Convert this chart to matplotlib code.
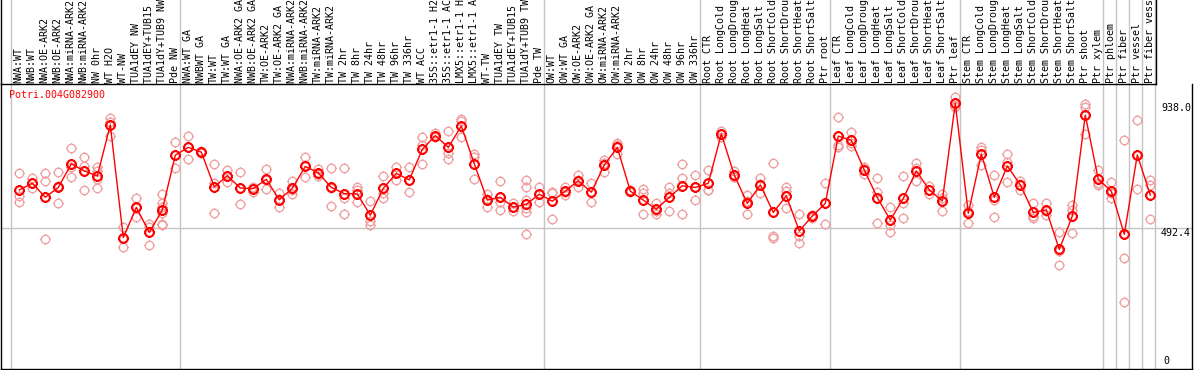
import matplotlib
matplotlib.use('Agg')
import matplotlib.pyplot as plt
from matplotlib.path import Path
import matplotlib.transforms as mtransforms
import numpy as np

# ---------------- data ----------------
gene = "Potri.004G082900"

labels = [
    # group 1
    "NWA:WT", "NWB:WT", "NWA:OE-ARK2", "NWB:OE-ARK2", "NWA:miRNA-ARK2", "NWB:miRNA-ARK2",
    "NW 0hr", "WT H2O", "WT-NW", "TUA1dEY NW", "TUA1dEY+TUB15 NW", "TUA1dY+TUB9 NW", "Pde NW",
    # group 2
    "NWA:WT GA", "NWBWT GA", "TW:WT", "TW:WT GA", "NWA:OE-ARK2 GA", "NWB:OE-ARK2 GA",
    "TW:OE-ARK2", "TW:OE-ARK2 GA", "NWA:miRNA-ARK2 GA", "NWB:miRNA-ARK2 GA", "TW:miRNA-ARK2",
    "TW:miRNA-ARK2 GA", "TW 2hr", "TW 8hr", "TW 24hr", "TW 48hr", "TW 96hr", "TW 336hr",
    "WT ACC", "35S::etr1-1 H2O", "35S::etr1-1 ACC", "LMX5::etr1-1 H2O", "LMX5::etr1-1 ACC",
    "WT-TW", "TUA1dEY TW", "TUA1dEY+TUB15 TW", "TUA1dY+TUB9 TW", "Pde TW",
    # group 3
    "OW:WT", "OW:WT GA", "OW:OE-ARK2", "OW:OE-ARK2 GA", "OW:miRNA-ARK2", "OW:miRNA-ARK2 GA",
    "OW 2hr", "OW 8hr", "OW 24hr", "OW 48hr", "OW 96hr", "OW 336hr",
    # group 4
    "Root CTR", "Root LongCold", "Root LongDrought", "Root LongHeat", "Root LongSalt",
    "Root ShortCold", "Root ShortDrought", "Root ShortHeat", "Root ShortSalt", "Ptr root",
    # group 5
    "Leaf CTR", "Leaf LongCold", "Leaf LongDrought", "Leaf LongHeat", "Leaf LongSalt",
    "Leaf ShortCold", "Leaf ShortDrought", "Leaf ShortHeat", "Leaf ShortSalt", "Ptr leaf",
    # group 6
    "Stem CTR", "Stem LongCold", "Stem LongDrought", "Stem LongHeat", "Stem LongSalt",
    "Stem ShortCold", "Stem ShortDrought", "Stem ShortHeat", "Stem ShortSalt", "Ptr shoot",
    "Ptr xylem", "Ptr phloem", "Ptr fiber", "Ptr vessel", "Ptr fiber vessel",
]

group_sizes = [13, 28, 12, 10, 10, 11, 1, 1, 1, 1]

means = [
    629, 653, 603, 638, 722, 697, 679, 861, 459, 567, 478, 558, 753,
    781, 764, 640, 680, 636, 634, 667, 594, 635, 713, 690, 638, 616, 615, 539, 635,
    688, 665, 774, 823, 781, 857, 722, 593, 603, 568, 578, 614,
    589, 625, 662, 621, 718, 781, 625, 593, 560, 603, 644, 638,
    653, 829, 682, 581, 647, 549, 608, 483, 536, 581,
    821, 806, 700, 602, 522, 599, 697, 629, 590, 938,
    546, 757, 603, 715, 647, 549, 558, 417, 536, 896, 667, 625, 471, 754, 611,
]

replicates = [
    [688, 607, 587], [671, 635, 653], [688, 662, 454], [692, 581, 642], [777, 676, 712],
    [748, 714, 629], [712, 698, 667, 635], [884, 872, 821], [496, 424, 458], [602, 534, 566],
    [506, 498, 433], [615, 584, 569, 546, 506, 503], [799, 706, 752],
    [821, 738, 783], [768, 762, 763], [722, 653, 546], [700, 659, 680], [692, 579, 637],
    [641, 623, 637], [704, 632, 665], [617, 567, 598], [662, 613, 630], [745, 676, 718],
    [705, 679, 686], [706, 571, 637], [706, 602, 542], [638, 629, 586], [590, 518, 503],
    [679, 617, 599], [711, 665, 688], [710, 622, 663], [818, 790, 722], [831, 818, 819],
    [838, 762, 741], [883, 875, 818], [756, 748, 668], [613, 570, 596], [661, 586, 559],
    [581, 555, 568], [665, 638, 593, 563, 552, 471], [638, 587, 616],
    [622, 617, 524], [641, 611, 623], [682, 641, 663], [653, 587, 623], [736, 694, 724],
    [798, 789, 757], [629, 622, 625], [631, 617, 542], [584, 543, 553], [638, 619, 554],
    [722, 671, 542], [682, 593, 639],
    [700, 629, 629], [840, 819, 828], [697, 674, 676], [611, 542, 590], [671, 617, 652],
    [724, 459, 465], [638, 625, 564], [542, 466, 439], [540, 528, 540], [653, 507, 583],
    [888, 789, 783], [835, 786, 797], [712, 685, 703], [671, 623, 510], [567, 504, 478],
    [679, 584, 530], [724, 706, 662], [644, 615, 628], [615, 555, 600], [959, 926, 929],
    [575, 510, 553], [781, 718, 772], [682, 532, 595], [757, 730, 656], [662, 629, 650],
    [581, 528, 538], [581, 540, 553], [480, 361, 411], [575, 477, 556], [936, 926, 827],
    [700, 647, 654], [656, 599, 620], [807, 385, 229], [878, 631, 753], [665, 647, 526],
]

ytick_values = [938.0, 492.4, 0]
ytick_labels = ["938.0", "492.4", "0"]

# ---------------- layout ----------------
W, H, DPI = 1194, 370, 100
fig = plt.figure(figsize=(W / DPI, H / DPI), dpi=DPI)
fig.patch.set_facecolor('white')

FONT = 'DejaVu Sans Mono'
FS = 7.2
RED = '#ff0000'
PINK = '#f0a0a0'
GRID = '#c4c4c4'

def px2fig(x0, y0, x1, y1):
    return [x0 / W, 1 - y1 / H, (x1 - x0) / W, (y1 - y0) / H]

# column k is centred at pixel 19.3 + 13*k
def kpx(p):
    return (p - 19.3) / 13.0

PLOT_L, PLOT_R, PLOT_T, PLOT_B = 1, 1192, 84, 369
LAB_R = 1156

ax = fig.add_axes(px2fig(PLOT_L, PLOT_T, PLOT_R, PLOT_B))
ax.set_xlim(kpx(PLOT_L), kpx(PLOT_R))
# value scale: 938 at y=103.3, 492.4 at y=228.3
vpp = (938.0 - 492.4) / 125.0
y0px = 228.3 + 492.4 / vpp
ax.set_ylim((y0px - PLOT_B) * vpp, (y0px - PLOT_T) * vpp)
ax.set_xticks([])
ax.set_yticks([])
for s in ['left', 'bottom', 'right']:
    ax.spines[s].set_color('black')
    ax.spines[s].set_linewidth(1.0)
ax.spines['top'].set_visible(False)

lab = fig.add_axes(px2fig(PLOT_L, 0, LAB_R, PLOT_T))
lab.set_xlim(kpx(PLOT_L), kpx(LAB_R))
lab.set_ylim(0, PLOT_T)
lab.set_xticks([])
lab.set_yticks([])
lab.patch.set_alpha(0)
for s in ['left', 'bottom', 'right']:
    lab.spines[s].set_color('black')
    lab.spines[s].set_linewidth(1.0)
lab.spines['top'].set_visible(False)

n = len(labels)
xs = np.arange(n)

# group separators
ends = np.cumsum(group_sizes) - 1
seps = [-1] + list(ends)
for e in seps:
    ax.axvline(e + 0.38, color=GRID, lw=1.0, zorder=0)
    lab.axvline(e + 0.38, color=GRID, lw=1.0, zorder=0)

# horizontal reference line
ax.axhline(492.4, color=GRID, lw=1.0, zorder=0)

# marker: circle with four short ticks
circ = Path.unit_circle()
tv, tc = [], []
for dx, dy in [(1, 0), (-1, 0), (0, 1), (0, -1)]:
    tv += [(dx * 1.0, dy * 1.0), (dx * 1.22, dy * 1.22)]
    tc += [Path.MOVETO, Path.LINETO]
marker = Path.make_compound_path(circ, Path(tv, tc))

# replicates
for k, reps in enumerate(replicates):
    ax.plot([k] * len(reps), reps, linestyle='none', marker=marker, ms=7.4,
            mfc='none', mec=PINK, mew=0.95, zorder=2, clip_on=False)

# mean line and markers
ax.plot(xs, means, color=RED, lw=1.0, zorder=3)
ax.plot(xs, means, linestyle='none', marker=marker, ms=7.6, mfc='none',
        mec=RED, mew=1.5, zorder=4)

# sample labels
tr = mtransforms.blended_transform_factory(lab.transData, lab.transData)
for k, t in enumerate(labels):
    lab.text(k - 0.05, 1.0, t, rotation=90, ha='center', va='bottom',
             fontsize=FS, family=FONT, color='black', transform=tr, clip_on=False)

# gene title
fig.text(9.5 / W, 1 - 90.5 / H, gene, color=RED, fontsize=FS, family=FONT,
         ha='left', va='top')

# y labels on the right
ytr = mtransforms.blended_transform_factory(fig.transFigure, ax.transData)
for v, t in zip(ytick_values, ytick_labels):
    if v == 0:
        fig.text(1163 / W, v, t, transform=ytr, fontsize=FS, family=FONT,
                 ha='left', va='bottom', color='black')
    else:
        fig.text(1161 / W, v, t, transform=ytr, fontsize=FS, family=FONT,
                 ha='left', va='top', color='black')

fig.savefig('out.png', dpi=DPI, facecolor='white')
